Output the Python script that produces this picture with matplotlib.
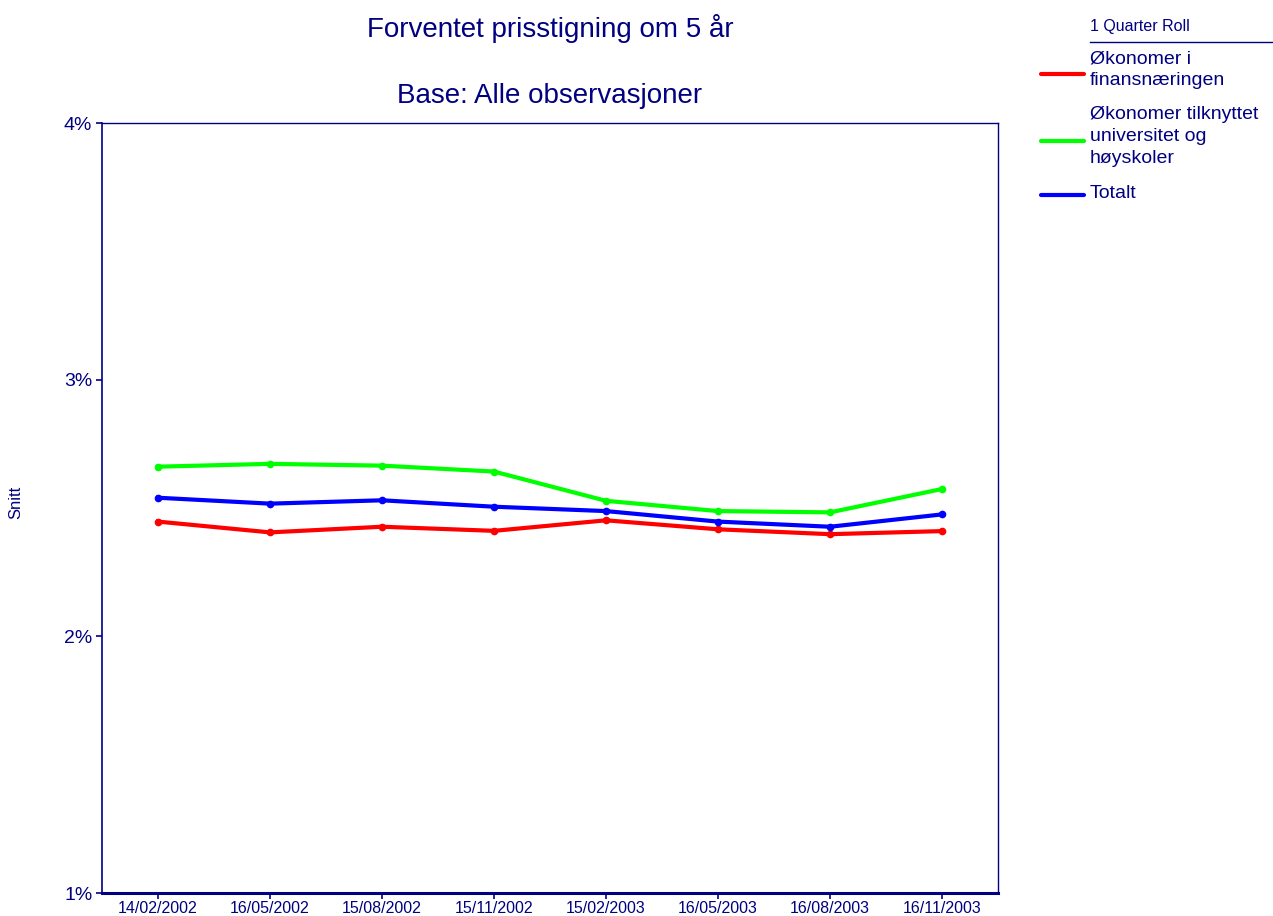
import matplotlib
matplotlib.use("Agg")
import matplotlib.pyplot as plt
from matplotlib.lines import Line2D
from matplotlib.ticker import FuncFormatter

plt.rcParams["font.family"] = ["Liberation Sans", "DejaVu Sans"]

NAVY = "#000080"

dates = ["14/02/2002", "16/05/2002", "15/08/2002", "15/11/2002",
         "15/02/2003", "16/05/2003", "16/08/2003", "16/11/2003"]
finans = [2.447, 2.405, 2.427, 2.411, 2.452, 2.417, 2.398, 2.410]
univ = [2.661, 2.672, 2.665, 2.642, 2.528, 2.488, 2.483, 2.574]
totalt = [2.540, 2.517, 2.530, 2.505, 2.488, 2.447, 2.427, 2.475]

series = [
    ("Økonomer i\nfinansnæringen", finans, "#ff0000"),
    ("Økonomer tilknyttet\nuniversitet og\nhøyskoler", univ, "#00ff00"),
    ("Totalt", totalt, "#0000ff"),
]

W, H = 1273, 916
fig = plt.figure(figsize=(W / 100, H / 100), dpi=100)
ax = fig.add_axes([102 / W, 23 / H, 896 / W, 770 / H])

x = list(range(len(dates)))
for label, vals, col in series:
    ax.plot(x, vals, color=col, lw=3, marker="o", markersize=4.5,
            solid_joinstyle="round")

ax.set_xlim(-0.5, len(dates) - 0.5)
ax.set_ylim(1, 4)
ax.set_yticks([1, 2, 3, 4])
ax.yaxis.set_major_formatter(FuncFormatter(lambda v, p: f"{v:.0f}%"))
ax.set_xticks(x)
ax.set_xticklabels(dates)
ax.tick_params(axis="x", colors=NAVY, labelsize=11.5, length=4, width=1.2,
               direction="out", pad=2)
ax.tick_params(axis="y", colors=NAVY, labelsize=14, length=4, width=1.2,
               direction="out", pad=3)
for s in ["left", "bottom", "top", "right"]:
    ax.spines[s].set_color(NAVY)
    ax.spines[s].set_linewidth(1.0)
ax.spines["left"].set_linewidth(1.2)
ax.spines["bottom"].set_linewidth(2.2)

fig.text(16 / W, 1 - 502 / H, "Snitt", rotation=90, ha="center",
         va="center", color=NAVY, fontsize=12)

fig.text(550 / W, 1 - 37 / H, "Forventet prisstigning om 5 år",
         ha="center", va="baseline", color=NAVY, fontsize=20)
fig.text(550 / W, 1 - 103 / H, "Base: Alle observasjoner",
         ha="center", va="baseline", color=NAVY, fontsize=20)

# legend
fig.text(1090 / W, 1 - 27 / H, "1 Quarter Roll", ha="left",
         va="center", color=NAVY, fontsize=11.5)
fig.add_artist(Line2D([1090 / W, 1272 / W], [1 - 42 / H] * 2,
                      color=NAVY, lw=1.0, transform=fig.transFigure))
leg_text_y = [50, 106, 185]
leg_line_y = [74, 141, 195]
for (label, vals, col), ty, ly in zip(series, leg_text_y, leg_line_y):
    fig.text(1090 / W, 1 - ty / H, label, ha="left", va="top",
             color=NAVY, fontsize=14, linespacing=1.4)
    fig.add_artist(Line2D([1041 / W, 1084 / W], [1 - ly / H] * 2,
                          color=col, lw=3, solid_capstyle="round",
                          transform=fig.transFigure))

fig.savefig("out.png", dpi=100)
